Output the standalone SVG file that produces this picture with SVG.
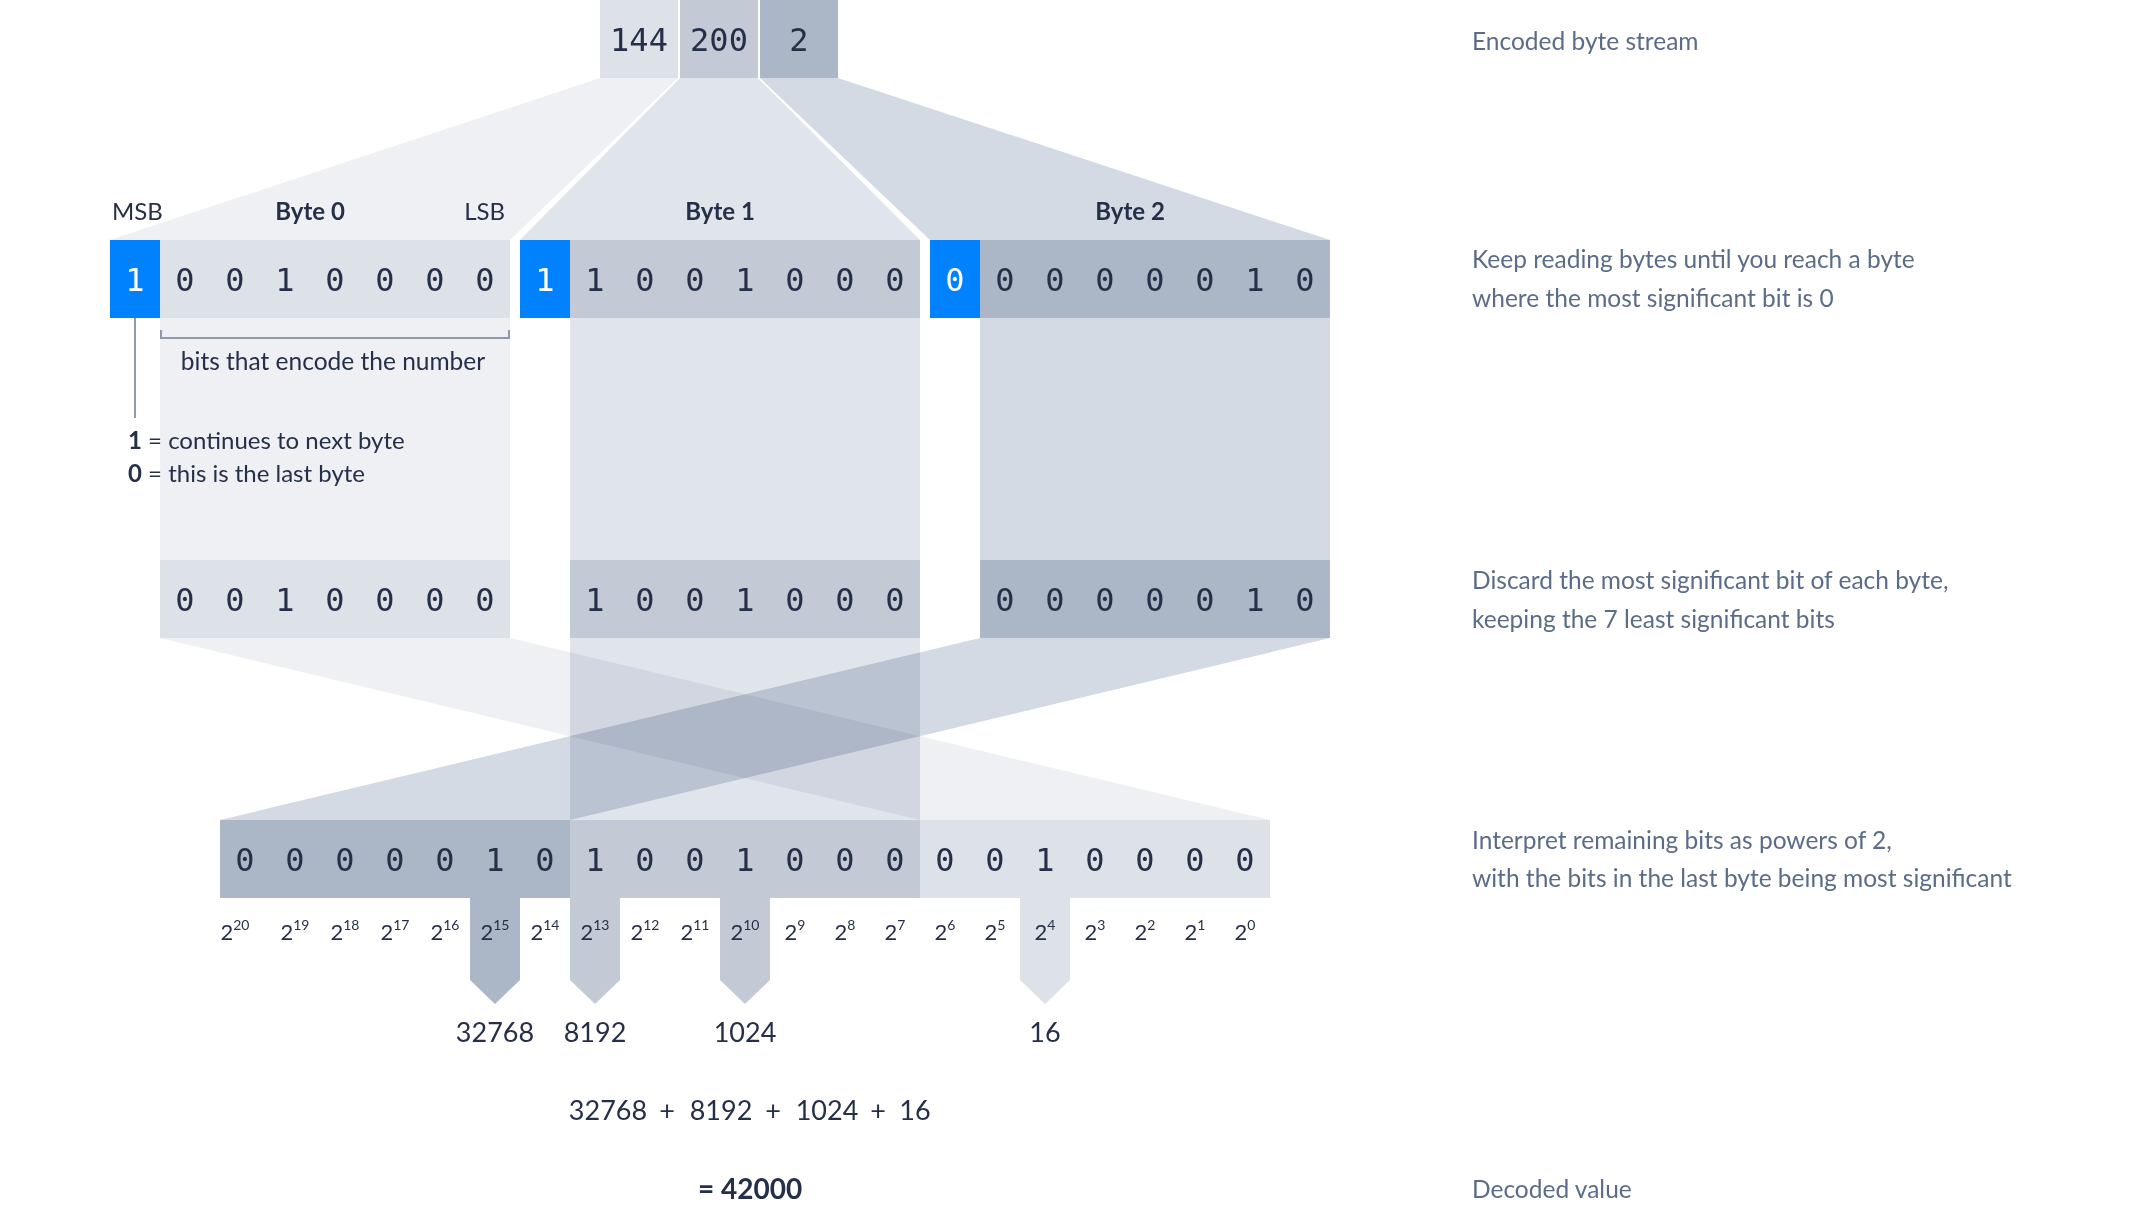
<svg xmlns="http://www.w3.org/2000/svg" width="2144" height="1220" viewBox="0 0 2144 1220">
<style>
.bg{fill:#ffffff}
.c0{fill:#dde1e8}
.c1{fill:#c3c9d5}
.c2{fill:#abb6c6}
.blue{fill:#0082ff}
.p0{fill:#eef0f4}
.p1{fill:#e0e4eb}
.p2{fill:#d4dae3}
.mul{mix-blend-mode:multiply}
.bit{font-family:"DejaVu Sans Mono","Liberation Mono",monospace;font-size:32px;fill:#253048;text-anchor:middle}
.bitw{font-family:"DejaVu Sans Mono","Liberation Mono",monospace;font-size:32px;fill:#ffffff;text-anchor:middle}
.lbl{font-family:Lato,"Noto Sans",sans-serif;font-size:24px;fill:#253048}
.bold{font-weight:700}
.mid{text-anchor:middle}
.end{text-anchor:end}
.note{font-family:Lato,"Noto Sans",sans-serif;font-size:24.5px;fill:#5b6c88}
.pow{font-family:Lato,"Noto Sans",sans-serif;font-size:22px;fill:#253048;text-anchor:middle}
.sup{font-size:14px}
.val{font-family:Lato,"Noto Sans",sans-serif;font-size:27px;fill:#253048;text-anchor:middle}
.guide{stroke:#8e99ad;stroke-width:2;fill:none}
</style>
<rect class="bg" x="0" y="0" width="2144" height="1220"/>

<g id="connectors">
  <polygon class="p0" points="600,78 678,78 510,240 110,240"/>
  <polygon class="p1" points="680,78 758,78 920,240 520,240"/>
  <polygon class="p2" points="760,78 838,78 1330,240 930,240"/>
  <rect class="p0" x="160" y="318" width="350" height="242"/>
  <rect class="p1" x="570" y="318" width="350" height="242"/>
  <rect class="p2" x="980" y="318" width="350" height="242"/>
  <polygon class="p0 mul" points="160,638 510,638 1270,820 920,820"/>
  <polygon class="p1 mul" points="570,638 920,638 920,820 570,820"/>
  <polygon class="p2 mul" points="980,638 1330,638 570,820 220,820"/>
</g>

<g id="stream">
  <rect class="c0" x="600" y="0" width="78" height="78"/>
  <rect class="c1" x="680" y="0" width="78" height="78"/>
  <rect class="c2" x="760" y="0" width="78" height="78"/>
  <text class="bit" x="639" y="51">144</text>
  <text class="bit" x="719" y="51">200</text>
  <text class="bit" x="799" y="51">2</text>
</g>

<g id="byte0">
  <text class="lbl" x="112" y="220">MSB</text>
  <text class="lbl bold mid" x="310" y="220">Byte 0</text>
  <text class="lbl end" x="505" y="220">LSB</text>
  <rect class="blue" x="110" y="240" width="50" height="78"/>
  <rect class="c0" x="160" y="240" width="350" height="78"/>
  <text class="bitw" x="135" y="291">1</text>
  <text class="bit" x="185 235 285 335 385 435 485" y="291">0010000</text>
</g>

<g id="byte1">
  <text class="lbl bold mid" x="720" y="220">Byte 1</text>
  <rect class="blue" x="520" y="240" width="50" height="78"/>
  <rect class="c1" x="570" y="240" width="350" height="78"/>
  <text class="bitw" x="545" y="291">1</text>
  <text class="bit" x="595 645 695 745 795 845 895" y="291">1001000</text>
</g>

<g id="byte2">
  <text class="lbl bold mid" x="1130" y="220">Byte 2</text>
  <rect class="blue" x="930" y="240" width="50" height="78"/>
  <rect class="c2" x="980" y="240" width="350" height="78"/>
  <text class="bitw" x="955" y="291">0</text>
  <text class="bit" x="1005 1055 1105 1155 1205 1255 1305" y="291">0000010</text>
</g>

<g id="annotations">
  <path class="guide" d="M161,330 V338 H509 V330"/>
  <text class="lbl mid" x="333" y="370" style="font-size:24.5px">bits that encode the number</text>
  <line class="guide" x1="135" y1="318" x2="135" y2="418"/>
  <text class="lbl" x="128" y="449"><tspan class="bold">1</tspan> = continues to next byte</text>
  <text class="lbl" x="128" y="482"><tspan class="bold">0</tspan> = this is the last byte</text>
</g>

<g id="payload0">
  <rect class="c0" x="160" y="560" width="350" height="78"/>
  <text class="bit" x="185 235 285 335 385 435 485" y="611">0010000</text>
</g>
<g id="payload1">
  <rect class="c1" x="570" y="560" width="350" height="78"/>
  <text class="bit" x="595 645 695 745 795 845 895" y="611">1001000</text>
</g>
<g id="payload2">
  <rect class="c2" x="980" y="560" width="350" height="78"/>
  <text class="bit" x="1005 1055 1105 1155 1205 1255 1305" y="611">0000010</text>
</g>

<g id="result-bits">
  <rect class="c2" x="220" y="820" width="350" height="78"/>
  <rect class="c1" x="570" y="820" width="350" height="78"/>
  <rect class="c0" x="920" y="820" width="350" height="78"/>
  <polygon class="c2" points="470,897 520,897 520,980 495,1004 470,980"/>
  <polygon class="c1" points="570,897 620,897 620,980 595,1004 570,980"/>
  <polygon class="c1" points="720,897 770,897 770,980 745,1004 720,980"/>
  <polygon class="c0" points="1020,897 1070,897 1070,980 1045,1004 1020,980"/>
  <text class="bit" x="245 295 345 395 445 495 545 595 645 695 745 795 845 895 945 995 1045 1095 1145 1195 1245" y="871">000001010010000010000</text>
</g>

<g id="powers">
  <text class="pow" x="235" y="940">2<tspan class="sup" dy="-10">20</tspan></text>
  <text class="pow" x="295" y="940">2<tspan class="sup" dy="-10">19</tspan></text>
  <text class="pow" x="345" y="940">2<tspan class="sup" dy="-10">18</tspan></text>
  <text class="pow" x="395" y="940">2<tspan class="sup" dy="-10">17</tspan></text>
  <text class="pow" x="445" y="940">2<tspan class="sup" dy="-10">16</tspan></text>
  <text class="pow" x="495" y="940">2<tspan class="sup" dy="-10">15</tspan></text>
  <text class="pow" x="545" y="940">2<tspan class="sup" dy="-10">14</tspan></text>
  <text class="pow" x="595" y="940">2<tspan class="sup" dy="-10">13</tspan></text>
  <text class="pow" x="645" y="940">2<tspan class="sup" dy="-10">12</tspan></text>
  <text class="pow" x="695" y="940">2<tspan class="sup" dy="-10">11</tspan></text>
  <text class="pow" x="745" y="940">2<tspan class="sup" dy="-10">10</tspan></text>
  <text class="pow" x="795" y="940">2<tspan class="sup" dy="-10">9</tspan></text>
  <text class="pow" x="845" y="940">2<tspan class="sup" dy="-10">8</tspan></text>
  <text class="pow" x="895" y="940">2<tspan class="sup" dy="-10">7</tspan></text>
  <text class="pow" x="945" y="940">2<tspan class="sup" dy="-10">6</tspan></text>
  <text class="pow" x="995" y="940">2<tspan class="sup" dy="-10">5</tspan></text>
  <text class="pow" x="1045" y="940">2<tspan class="sup" dy="-10">4</tspan></text>
  <text class="pow" x="1095" y="940">2<tspan class="sup" dy="-10">3</tspan></text>
  <text class="pow" x="1145" y="940">2<tspan class="sup" dy="-10">2</tspan></text>
  <text class="pow" x="1195" y="940">2<tspan class="sup" dy="-10">1</tspan></text>
  <text class="pow" x="1245" y="940">2<tspan class="sup" dy="-10">0</tspan></text>
</g>

<g id="values">
  <text class="val" x="495" y="1042">32768</text>
  <text class="val" x="595" y="1042">8192</text>
  <text class="val" x="745" y="1042">1024</text>
  <text class="val" x="1045" y="1042">16</text>
</g>

<g id="sum">
  <text class="val" y="1120"><tspan x="608">32768</tspan><tspan x="667">+</tspan><tspan x="721">8192</tspan><tspan x="773">+</tspan><tspan x="827">1024</tspan><tspan x="878">+</tspan><tspan x="915">16</tspan></text>
</g>

<g id="total">
  <text class="val bold" x="750" y="1199" style="font-size:28px">= 42000</text>
</g>

<g id="notes">
  <text class="note" x="1472" y="50">Encoded byte stream</text>
  <text class="note" x="1472" y="268">Keep reading bytes until you reach a byte</text>
  <text class="note" x="1472" y="307">where the most significant bit is 0</text>
  <text class="note" x="1472" y="589">Discard the most significant bit of each byte,</text>
  <text class="note" x="1472" y="628">keeping the 7 least significant bits</text>
  <text class="note" x="1472" y="849">Interpret remaining bits as powers of 2,</text>
  <text class="note" x="1472" y="887">with the bits in the last byte being most significant</text>
  <text class="note" x="1472" y="1198">Decoded value</text>
</g>
</svg>
